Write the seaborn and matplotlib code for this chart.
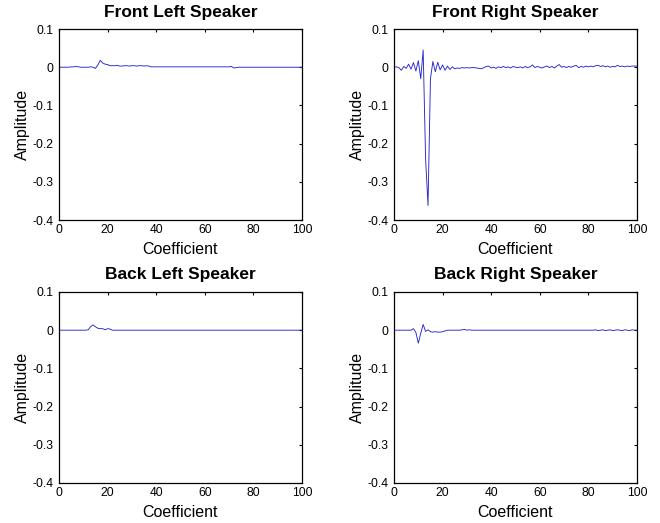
import numpy as np
import pandas as pd
import matplotlib
matplotlib.use("Agg")
import matplotlib.pyplot as plt
import seaborn as sns

# filter coefficients (index 0..100)
coef = np.arange(101)

front_left = [
    0.000, 0.000, 0.000, 0.000, 0.000, 0.001, 0.001, 0.002, 0.001, 0.000,
    0.000, 0.000, 0.000, 0.001, 0.000, -0.003, 0.006, 0.018, 0.011, 0.008,
    0.007, 0.004, 0.004, 0.004, 0.005, 0.003, 0.003, 0.004, 0.004, 0.003,
    0.004, 0.004, 0.003, 0.004, 0.004, 0.003, 0.004, 0.003, 0.001, 0.001,
    0.001, 0.001, 0.001, 0.001, 0.001, 0.001, 0.001, 0.001, 0.001, 0.001,
    0.001, 0.001, 0.001, 0.001, 0.001, 0.001, 0.001, 0.001, 0.001, 0.001,
    0.001, 0.001, 0.001, 0.001, 0.001, 0.001, 0.001, 0.001, 0.001, 0.001,
    0.001, 0.002, -0.002, -0.001, 0.000, 0.000, 0.000, 0.000, 0.000, 0.000,
    0.000, 0.000, 0.000, 0.000, 0.000, 0.000, 0.000, 0.000, 0.000, 0.000,
    0.000, 0.000, 0.000, 0.000, 0.000, 0.000, 0.000, 0.000, 0.000, 0.000,
    0.000,
]

front_right = [
    0.000, 0.001, -0.001, -0.008, 0.002, -0.003, 0.008, -0.005, 0.012, -0.010,
    0.017, -0.030, 0.045, -0.240, -0.362, -0.030, 0.015, -0.012, 0.013, -0.007,
    0.006, -0.008, 0.003, -0.006, 0.001, -0.004, -0.002, -0.003, -0.001, -0.002,
    -0.001, -0.002, -0.001, -0.001, -0.002, -0.003, -0.004, -0.001, 0.002, 0.003,
    -0.002, 0.000, -0.003, 0.001, -0.001, 0.002, -0.001, 0.001, -0.002, 0.002,
    0.000, -0.001, 0.001, -0.002, 0.002, -0.001, 0.001, 0.006, -0.001, 0.002,
    0.000, -0.002, 0.001, 0.003, -0.001, 0.002, -0.002, 0.003, 0.007, 0.000,
    0.002, -0.001, 0.002, 0.000, 0.003, 0.005, -0.001, 0.002, 0.000, 0.003,
    0.001, 0.003, 0.001, 0.004, 0.005, 0.002, 0.004, 0.001, 0.003, 0.000,
    0.002, 0.001, 0.005, 0.002, 0.003, 0.001, 0.003, 0.002, 0.003, 0.003,
    0.003,
]

back_left = [
    0.000, 0.000, 0.000, 0.000, 0.000, 0.000, 0.000, 0.000, 0.000, 0.000,
    0.000, 0.000, 0.001, 0.009, 0.014, 0.009, 0.005, 0.004, 0.004, 0.001,
    0.004, 0.003, 0.000, 0.000, 0.000, 0.000, 0.000, 0.000, 0.000, 0.000,
    0.000, 0.000, 0.000, 0.000, 0.000, 0.000, 0.000, 0.000, 0.000, 0.000,
    0.000, 0.000, 0.000, 0.000, 0.000, 0.000, 0.000, 0.000, 0.000, 0.000,
    0.000, 0.000, 0.000, 0.000, 0.000, 0.000, 0.000, 0.000, 0.000, 0.000,
    0.000, 0.000, 0.000, 0.000, 0.000, 0.000, 0.000, 0.000, 0.000, 0.000,
    0.000, 0.000, 0.000, 0.000, 0.000, 0.000, 0.000, 0.000, 0.000, 0.000,
    0.000, 0.000, 0.000, 0.000, 0.000, 0.000, 0.000, 0.000, 0.000, 0.000,
    0.000, 0.000, 0.000, 0.000, 0.000, 0.000, 0.000, 0.000, 0.000, 0.000,
    0.000,
]

back_right = [
    0.000, 0.000, 0.000, 0.000, 0.000, 0.000, 0.000, 0.000, 0.004, -0.006,
    -0.034, -0.008, 0.015, -0.003, 0.001, -0.004, -0.005, -0.004, -0.005, -0.005,
    -0.004, -0.002, 0.000, 0.000, 0.000, 0.000, 0.000, 0.000, 0.001, 0.002,
    0.000, 0.001, 0.000, 0.000, 0.000, 0.000, 0.000, 0.000, 0.000, 0.000,
    0.000, 0.000, 0.000, 0.000, 0.000, 0.000, 0.000, 0.000, 0.000, 0.000,
    0.000, 0.000, 0.000, 0.000, 0.000, 0.000, 0.000, 0.000, 0.000, 0.000,
    0.000, 0.000, 0.000, 0.000, 0.000, 0.000, 0.000, 0.000, 0.000, 0.000,
    0.000, 0.000, 0.000, 0.000, 0.000, 0.000, 0.000, 0.000, 0.000, 0.000,
    0.000, 0.000, 0.000, 0.001, -0.001, 0.000, 0.001, -0.001, 0.000, 0.001,
    -0.001, 0.000, 0.001, 0.000, -0.001, 0.001, 0.000, -0.001, 0.001, 0.000,
    0.000,
]

titles = ["Front Left Speaker", "Front Right Speaker",
          "Back Left Speaker", "Back Right Speaker"]
series = [front_left, front_right, back_left, back_right]

sns.set_style("white")
plt.rcParams["font.family"] = ["Liberation Sans", "DejaVu Sans"]
plt.rcParams["text.color"] = "black"
plt.rcParams["axes.labelcolor"] = "black"

fig = plt.figure(figsize=(6.6, 5.23), dpi=100)

# axes boxes in figure fractions (left, bottom, width, height)
boxes = [
    [0.0894, 0.5793, 0.368, 0.3652],
    [0.5970, 0.5793, 0.368, 0.3652],
    [0.0894, 0.0765, 0.368, 0.3652],
    [0.5970, 0.0765, 0.368, 0.3652],
]

for box, title, vals in zip(boxes, titles, series):
    ax = fig.add_axes(box)
    df = pd.DataFrame({"Coefficient": coef, "Amplitude": vals})
    sns.lineplot(data=df, x="Coefficient", y="Amplitude", ax=ax,
                 color="#2626cc", linewidth=0.65)
    ax.set_xlim(0, 100)
    ax.set_ylim(-0.4, 0.1)
    ax.set_xticks([0, 20, 40, 60, 80, 100])
    ax.set_yticks([-0.4, -0.3, -0.2, -0.1, 0, 0.1])
    ax.set_yticklabels(["-0.4", "-0.3", "-0.2", "-0.1", "0", "0.1"])
    ax.tick_params(direction="in", top=True, right=True, length=2.5,
                   width=0.8, labelsize=8.7, colors="black")
    ax.tick_params(axis="x", pad=3)
    ax.tick_params(axis="y", pad=4)
    for sp in ax.spines.values():
        sp.set_color("black")
        sp.set_linewidth(0.9)
    ax.set_title(title, fontsize=12.5, fontweight="bold", pad=9, color="black")
    ax.set_xlabel("Coefficient", fontsize=11.5, labelpad=4)
    ax.set_ylabel("Amplitude", fontsize=11.5, labelpad=2)

fig.savefig("out.png", dpi=100, facecolor="white")
